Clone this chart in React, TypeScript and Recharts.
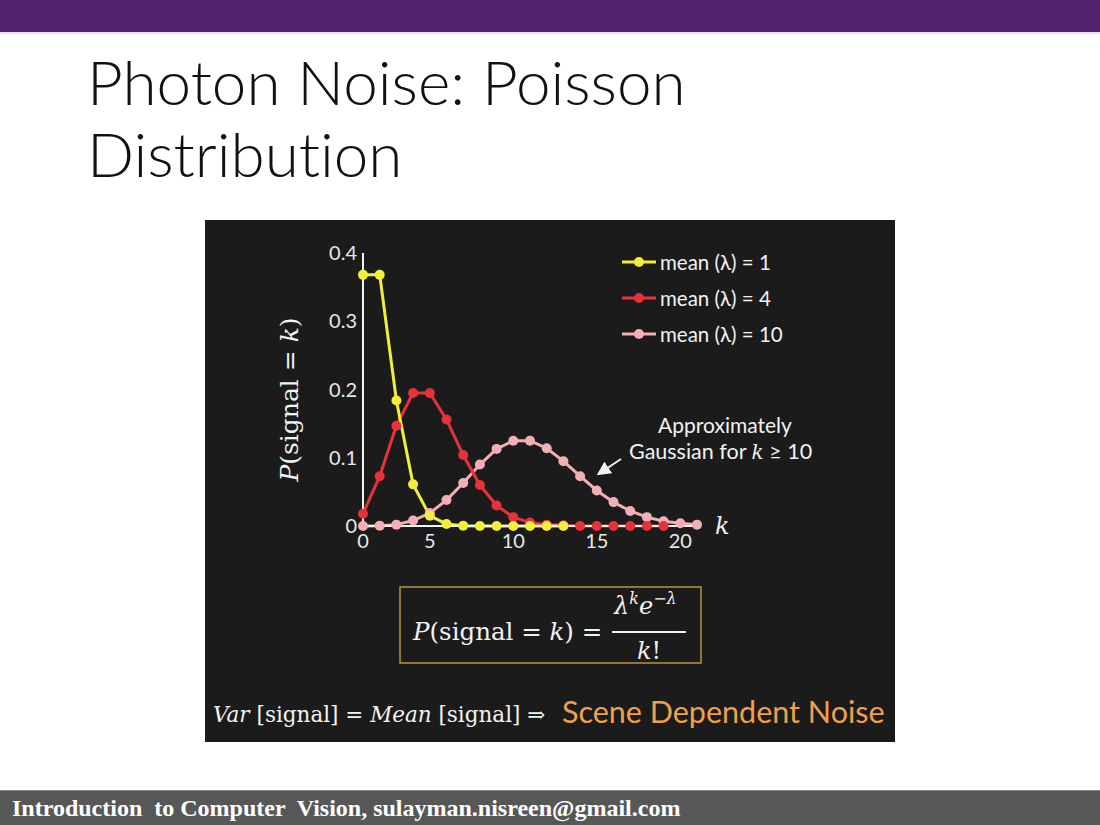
import React from "react";
import { LineChart, Line, XAxis, YAxis, Legend } from "recharts";

// k = 0..20
const kValues = [0, 1, 2, 3, 4, 5, 6, 7, 8, 9, 10, 11, 12, 13, 14, 15, 16, 17, 18, 19, 20];
const lambda1 = [0.368, 0.368, 0.184, 0.061, 0.015, 0.003, 0.0005, 0.0001, 0, 0, 0, 0, 0];
const lambda4 = [
  0.018, 0.073, 0.147, 0.195, 0.195, 0.156, 0.104, 0.06, 0.03, 0.013, 0.005, 0.002, 0.001, 0, 0, 0, 0, 0, 0,
];
const lambda10 = [
  0, 0.0005, 0.002, 0.008, 0.019, 0.038, 0.063, 0.09, 0.113, 0.125, 0.125, 0.114, 0.095, 0.073, 0.052, 0.035,
  0.022, 0.013, 0.007, 0.004, 0.002,
];
const xTickPositions = [0, 4, 9, 14, 19];
const xTickLabels = ["0", "5", "10", "15", "20"];
const yTicks = [0, 0.1, 0.2, 0.3, 0.4];

const series = [
  { key: "lam1", name: "mean (\u03bb) = 1", color: "#f2ee3c" },
  { key: "lam4", name: "mean (\u03bb) = 4", color: "#e8323a" },
  { key: "lam10", name: "mean (\u03bb) = 10", color: "#f2b0b6" },
];

const data = kValues.map((k, i) => ({
  k,
  lam1: lambda1[i],
  lam4: lambda4[i],
  lam10: lambda10[i],
}));

const serif = "'DejaVu Serif', 'Liberation Serif', serif";
const sans = "Lato, 'Open Sans', sans-serif";

const LegendContent = ({ payload }: any) => {
  const items = [...(payload || [])].sort(
    (a: any, b: any) =>
      series.findIndex((s) => s.name === a.value) - series.findIndex((s) => s.name === b.value)
  );
  return (
    <div>
      {items.map((item: any) => (
        <div key={item.value} style={{ display: "flex", alignItems: "center", height: 36 }}>
          <svg width={36} height={14}>
            <line x1={0} y1={7} x2={34} y2={7} stroke={item.color} strokeWidth={3} />
            <circle cx={17} cy={7} r={5} fill={item.color} />
          </svg>
          <span style={{ color: "#f2f2f2", fontFamily: sans, fontSize: 20.5, marginLeft: 2 }}>{item.value}</span>
        </div>
      ))}
    </div>
  );
};

const YLabel = ({ viewBox }: any) => {
  const cx = viewBox.x - 12;
  const cy = viewBox.y + viewBox.height / 2 + 10;
  return (
    <text
      x={cx}
      y={cy}
      transform={`rotate(-90 ${cx} ${cy})`}
      textAnchor="middle"
      dominantBaseline="middle"
      fill="#f2f2f2"
      fontFamily={serif}
      fontSize={25}
    >
      <tspan fontStyle="italic">P</tspan>(signal = <tspan fontStyle="italic">k</tspan>)
    </text>
  );
};

const XLabel = ({ viewBox }: any) => (
  <text
    x={viewBox.x + viewBox.width + 18}
    y={viewBox.y + 8}
    fill="#f2f2f2"
    fontFamily={serif}
    fontStyle="italic"
    fontSize={24}
  >
    k
  </text>
);

export default function App() {
  return (
    <div
      style={{
        position: "relative",
        width: 1100,
        height: 825,
        background: "#ffffff",
        overflow: "hidden",
        fontFamily: sans,
      }}
    >
      <style>{`body{margin:0}`}</style>
      <div style={{ position: "absolute", left: 0, top: 0, width: 1100, height: 32, background: "#52246f" }} />
      <div style={{ position: "absolute", left: 0, top: 32, width: 1100, height: 2, background: "#f0dcf2" }} />

      <div
        style={{
          position: "absolute",
          left: 87,
          top: 45,
          fontFamily: sans,
          fontWeight: 300,
          fontSize: 62,
          lineHeight: "72px",
          color: "#111",
          fontVariantLigatures: "none",
        }}
      >
        Photon Noise: Poisson
        <br />
        Distribution
      </div>

      <div
        style={{ position: "absolute", left: 205, top: 220, width: 690, height: 522, background: "#1b1b1b" }}
      >
        <LineChart
          width={690}
          height={350}
          data={data}
          margin={{ top: 33, right: 198, left: 98, bottom: 14 }}
        >
          <XAxis
            dataKey="k"
            type="number"
            domain={[0, 20]}
            ticks={xTickPositions}
            tickFormatter={(v: number) => xTickLabels[xTickPositions.indexOf(v)]}
            stroke="#f2f2f2"
            strokeWidth={2}
            tickLine={false}
            tickSize={0}
            tickMargin={8}
            tick={{ fill: "#e8e8e8", fontSize: 20, fontFamily: sans }}
            height={30}
            label={<XLabel />}
          />
          <YAxis
            type="number"
            domain={[0, 0.4]}
            ticks={yTicks}
            tickFormatter={(v: number) => (v === 0 ? "0" : v.toFixed(1))}
            stroke="#f2f2f2"
            strokeWidth={2}
            tickLine={false}
            tickSize={0}
            tickMargin={6}
            tick={{ fill: "#e8e8e8", fontSize: 20, fontFamily: sans }}
            width={60}
            label={<YLabel />}
          />
          <Legend
            layout="vertical"
            align="center"
            verticalAlign="middle"
            content={<LegendContent />}
            wrapperStyle={{ left: 417, top: 24, width: 240 }}
          />
          {[...series].reverse().map((s) => (
            <Line
              key={s.key}
              type="linear"
              dataKey={s.key}
              name={s.name}
              stroke={s.color}
              strokeWidth={3}
              dot={{ r: 5, fill: s.color, stroke: "none" }}
              isAnimationActive={false}
            />
          ))}
        </LineChart>
      </div>

      <svg
        width={1100}
        height={825}
        style={{ position: "absolute", left: 0, top: 0, pointerEvents: "none" }}
      >
        <defs>
          <marker id="ah" markerWidth="7" markerHeight="7" refX="5" refY="3.5" orient="auto">
            <path d="M0,0 L7,3.5 L0,7 z" fill="#f2f2f2" />
          </marker>
        </defs>
        <text x={725} y={433} textAnchor="middle" fill="#f2f2f2" fontFamily={sans} fontSize={21}>
          Approximately
        </text>
        <text x={629} y={459} fill="#f2f2f2" fontFamily={sans} fontSize={21.5}>
          Gaussian for <tspan fontFamily={serif} fontStyle="italic" fontSize={20}>k</tspan> {"\u2265"} 10
        </text>
        <line x1={621} y1={459} x2={600} y2={473} stroke="#f2f2f2" strokeWidth={2} markerEnd="url(#ah)" />

        <rect x={400} y={587} width={301} height={76} fill="none" stroke="#b8953e" strokeWidth={1.5} />
        <text x={413} y={640} fill="#f2f2f2" fontFamily={serif} fontSize={24.5}>
          <tspan fontStyle="italic">P</tspan>(signal = <tspan fontStyle="italic">k</tspan>) =
        </text>
        <text x={614} y={614} fill="#f2f2f2" fontFamily={serif} fontSize={24} fontStyle="italic">
          {"\u03bb"}
          <tspan fontSize={16} dy={-10}>k</tspan>
          <tspan dy={10}>e</tspan>
          <tspan fontSize={16} dy={-10}>{"\u2212\u03bb"}</tspan>
        </text>
        <line x1={612} y1={632} x2={686} y2={632} stroke="#f2f2f2" strokeWidth={2} />
        <text x={649} y={659} textAnchor="middle" fill="#f2f2f2" fontFamily={serif} fontSize={24}>
          <tspan fontStyle="italic">k</tspan>!
        </text>

        <text x={213} y={722} fill="#f2f2f2" fontFamily={serif} fontSize={21.5}>
          <tspan fontStyle="italic">Var</tspan> [signal] = <tspan fontStyle="italic">Mean</tspan> [signal]{" "}
          {"\u21d2"}
        </text>
        <text x={562} y={723} fill="#f0a04c" fontFamily={sans} fontSize={30.5}>
          Scene Dependent Noise
        </text>
      </svg>

      <div
        style={{
          position: "absolute",
          left: 0,
          top: 790,
          width: 1100,
          height: 35,
          background: "#575757",
          borderTop: "1px solid #8a8a8a",
        }}
      >
        <div
          style={{
            position: "absolute",
            left: 12,
            top: 4,
            fontFamily: "'Liberation Serif', serif",
            fontWeight: 700,
            fontSize: 24,
            color: "#ffffff",
            whiteSpace: "pre",
          }}
        >
          {"Introduction  to Computer  Vision, sulayman.nisreen@gmail.com"}
        </div>
      </div>
    </div>
  );
}
